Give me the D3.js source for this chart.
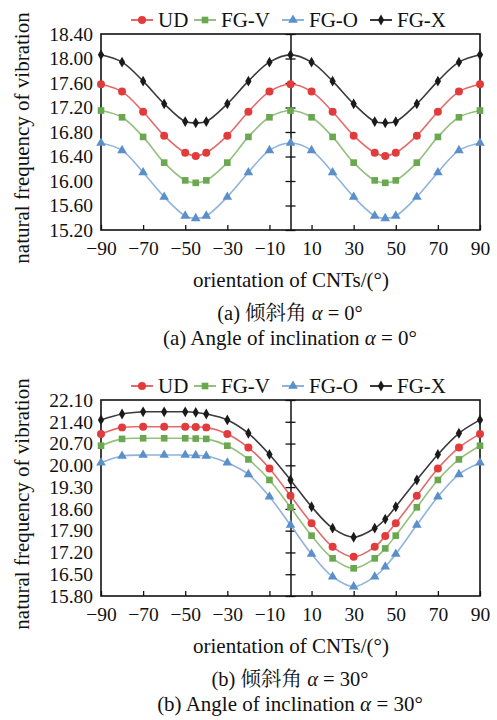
<!DOCTYPE html>
<html lang="en">
<head>
<meta charset="UTF-8">
<title>Natural frequency vs CNT orientation</title>
<script src="https://d3js.org/d3.v7.min.js"></script>
<style>
    body { margin: 0; background: #fff; }
    svg text { font-family: "Liberation Serif", Tinos, "DejaVu Serif", serif !important; fill: #111; }
    svg text.cjk { font-family: "Liberation Serif", "Noto Serif CJK SC", "Noto Sans CJK SC", serif !important; }
</style>
</head>
<body>
<div id="chart"></div>
<script>
// angles (x values) shared by both panels
const angles = [-90, -80, -70, -60, -50, -45, -40, -30, -20, -10, 0, 10, 20, 30, 40, 45, 50, 60, 70, 80, 90];
const xTicks = [-90, -70, -50, -30, -10, 10, 30, 50, 70, 90];
const seriesNames = ["UD", "FG-V", "FG-O", "FG-X"];

// panel (a): inclination 0 deg
const udA  = [17.58, 17.46, 17.13, 16.74, 16.46, 16.41, 16.46, 16.74, 17.13, 17.46, 17.58, 17.46, 17.13, 16.74, 16.46, 16.41, 16.46, 16.74, 17.13, 17.46, 17.58];
const fgvA = [17.15, 17.04, 16.72, 16.30, 16.01, 15.97, 16.01, 16.30, 16.72, 17.04, 17.15, 17.04, 16.72, 16.30, 16.01, 15.97, 16.01, 16.30, 16.72, 17.04, 17.15];
const fgoA = [16.62, 16.50, 16.14, 15.74, 15.43, 15.39, 15.43, 15.74, 16.14, 16.50, 16.62, 16.50, 16.14, 15.74, 15.43, 15.39, 15.43, 15.74, 16.14, 16.50, 16.62];
const fgxA = [18.06, 17.94, 17.63, 17.26, 16.97, 16.95, 16.97, 17.26, 17.63, 17.94, 18.06, 17.94, 17.63, 17.26, 16.97, 16.95, 16.97, 17.26, 17.63, 17.94, 18.06];
const yTicksA = [15.20, 15.60, 16.00, 16.40, 16.80, 17.20, 17.60, 18.00, 18.40];

// panel (b): inclination 30 deg
const udB  = [21.01, 21.22, 21.24, 21.24, 21.24, 21.23, 21.22, 21.01, 20.57, 19.90, 19.02, 18.14, 17.38, 17.06, 17.38, 17.73, 18.14, 19.02, 19.90, 20.57, 21.01];
const fgvB = [20.63, 20.85, 20.87, 20.87, 20.87, 20.86, 20.85, 20.63, 20.19, 19.53, 18.65, 17.74, 17.01, 16.69, 17.01, 17.33, 17.74, 18.65, 19.53, 20.19, 20.63];
const fgoB = [20.08, 20.30, 20.33, 20.33, 20.33, 20.32, 20.30, 20.08, 19.71, 18.99, 18.08, 17.15, 16.42, 16.10, 16.42, 16.74, 17.15, 18.08, 18.99, 19.71, 20.08];
const fgxB = [21.46, 21.65, 21.72, 21.72, 21.72, 21.70, 21.65, 21.46, 21.03, 20.35, 19.53, 18.67, 17.98, 17.69, 17.98, 18.27, 18.67, 19.53, 20.35, 21.03, 21.46];
const yTicksB = [15.80, 16.50, 17.20, 17.90, 18.60, 19.30, 20.00, 20.70, 21.40, 22.10];

const width = 497, height = 720;
const left = 101, right = 480;
const serif = '"Liberation Serif", Tinos, "DejaVu Serif", serif';

const styles = {
    "UD":   { line: "#e46a6a", fill: "#e23b3b", shape: d3.symbolCircle,   size: 50 },
    "FG-V": { line: "#94c07e", fill: "#6aa84f", shape: d3.symbolSquare,   size: 44 },
    "FG-O": { line: "#8fb3da", fill: "#5b8fc9", shape: d3.symbolTriangle, size: 40 },
    "FG-X": { line: "#3a3a3a", fill: "#1a1a1a", shape: d3.symbolDiamond,  size: 34 }
};

const svg = d3.select("#chart").append("svg")
    .attr("width", width)
    .attr("height", height)
    .attr("font-family", serif);

function drawPanel(cfg) {
    const x = d3.scaleLinear().domain([-90, 90]).range([left, right]);
    const y = d3.scaleLinear().domain([cfg.yTicks[0], cfg.yTicks[cfg.yTicks.length - 1]]).range([cfg.bottom, cfg.top]);
    const g = svg.append("g");

    // left labels (no tick marks)
    g.append("g")
        .attr("transform", `translate(${left},0)`)
        .call(d3.axisLeft(y).tickValues(cfg.yTicks).tickSize(0).tickPadding(8).tickFormat(d3.format(".2f")))
        .attr("font-family", serif)
        .call(a => a.select(".domain").remove())
        .selectAll("text").attr("font-size", 19.5).attr("fill", "#111");

    // bottom axis, ticks pointing inward
    g.append("g")
        .attr("transform", `translate(0,${cfg.bottom})`)
        .call(d3.axisBottom(x).tickValues(xTicks).tickSizeInner(-5).tickSizeOuter(0).tickPadding(11)
            .tickFormat(d => d < 0 ? "\u2212" + Math.abs(d) : d))
        .attr("font-family", serif)
        .call(a => a.select(".domain").remove())
        .call(a => a.selectAll("line").attr("stroke", "#111").attr("stroke-width", 1.3))
        .selectAll("text").attr("font-size", 19.5).attr("fill", "#111");

    // centre axis at x = 0 with crossing ticks
    g.append("g")
        .attr("transform", `translate(${x(0)},0)`)
        .call(d3.axisLeft(y).tickValues(cfg.yTicks).tickSize(0).tickFormat(""))
        .call(a => a.select(".domain").attr("stroke", "#111").attr("stroke-width", 1.5))
        .call(a => a.selectAll(".tick line").attr("x1", -5).attr("x2", 5).attr("stroke", "#111").attr("stroke-width", 1.3));

    // frame
    g.append("rect")
        .attr("x", left).attr("y", cfg.top)
        .attr("width", right - left).attr("height", cfg.bottom - cfg.top)
        .attr("fill", "none").attr("stroke", "#111").attr("stroke-width", 1.6);

    const line = d3.line()
        .x((d, i) => x(angles[i]))
        .y(d => y(d))
        .curve(d3.curveCatmullRom.alpha(0.5));

    cfg.series.forEach((vals, k) => {
        const s = styles[seriesNames[k]];
        g.append("path")
            .datum(vals)
            .attr("fill", "none")
            .attr("stroke", s.line)
            .attr("stroke-width", 1.6)
            .attr("d", line);
        g.selectAll(null)
            .data(vals)
            .enter().append("path")
            .attr("transform", (d, i) => `translate(${x(angles[i])},${y(d)})`)
            .attr("d", d3.symbol().type(s.shape).size(s.size))
            .attr("fill", s.fill);
    });

    // legend
    const legendX = [142, 205, 293, 381];
    const ly = cfg.top - 14;
    seriesNames.forEach((name, k) => {
        const s = styles[name];
        const cx = legendX[k];
        g.append("line")
            .attr("x1", cx - 11).attr("x2", cx + 11)
            .attr("y1", ly).attr("y2", ly)
            .attr("stroke", s.line).attr("stroke-width", 2);
        g.append("path")
            .attr("transform", `translate(${cx},${ly})`)
            .attr("d", d3.symbol().type(s.shape).size(s.size))
            .attr("fill", s.fill);
        g.append("text")
            .attr("x", cx + 16).attr("y", ly + 7)
            .attr("font-size", 21)
            .text(name);
    });

    // y title
    g.append("text")
        .attr("transform", `translate(29,${(cfg.top + cfg.bottom) / 2 + 6}) rotate(-90)`)
        .attr("text-anchor", "middle")
        .attr("font-size", 21)
        .text("natural frequency of vibration");

    // x title and captions
    g.append("text")
        .attr("x", 291).attr("y", cfg.bottom + 57)
        .attr("text-anchor", "middle")
        .attr("font-size", 21)
        .text("orientation of CNTs/(\u00b0)");

    const cap1 = g.append("text")
        .attr("class", "cjk")
        .attr("x", 290).attr("y", cfg.bottom + 90)
        .attr("text-anchor", "middle")
        .attr("font-size", 20.5);
    cap1.append("tspan").text(`(${cfg.letter}) 倾斜角 `);
    cap1.append("tspan").attr("font-style", "italic").text("\u03b1");
    cap1.append("tspan").text(` = ${cfg.alpha}\u00b0`);

    const cap2 = g.append("text")
        .attr("x", 290).attr("y", cfg.bottom + 115)
        .attr("text-anchor", "middle")
        .attr("font-size", 21);
    cap2.append("tspan").text(`(${cfg.letter}) Angle of inclination `);
    cap2.append("tspan").attr("font-style", "italic").text("\u03b1");
    cap2.append("tspan").text(` = ${cfg.alpha}\u00b0`);
}

drawPanel({ top: 34, bottom: 230, yTicks: yTicksA, series: [udA, fgvA, fgoA, fgxA], letter: "a", alpha: 0 });
drawPanel({ top: 400, bottom: 596, yTicks: yTicksB, series: [udB, fgvB, fgoB, fgxB], letter: "b", alpha: 30 });
</script>
</body>
</html>
